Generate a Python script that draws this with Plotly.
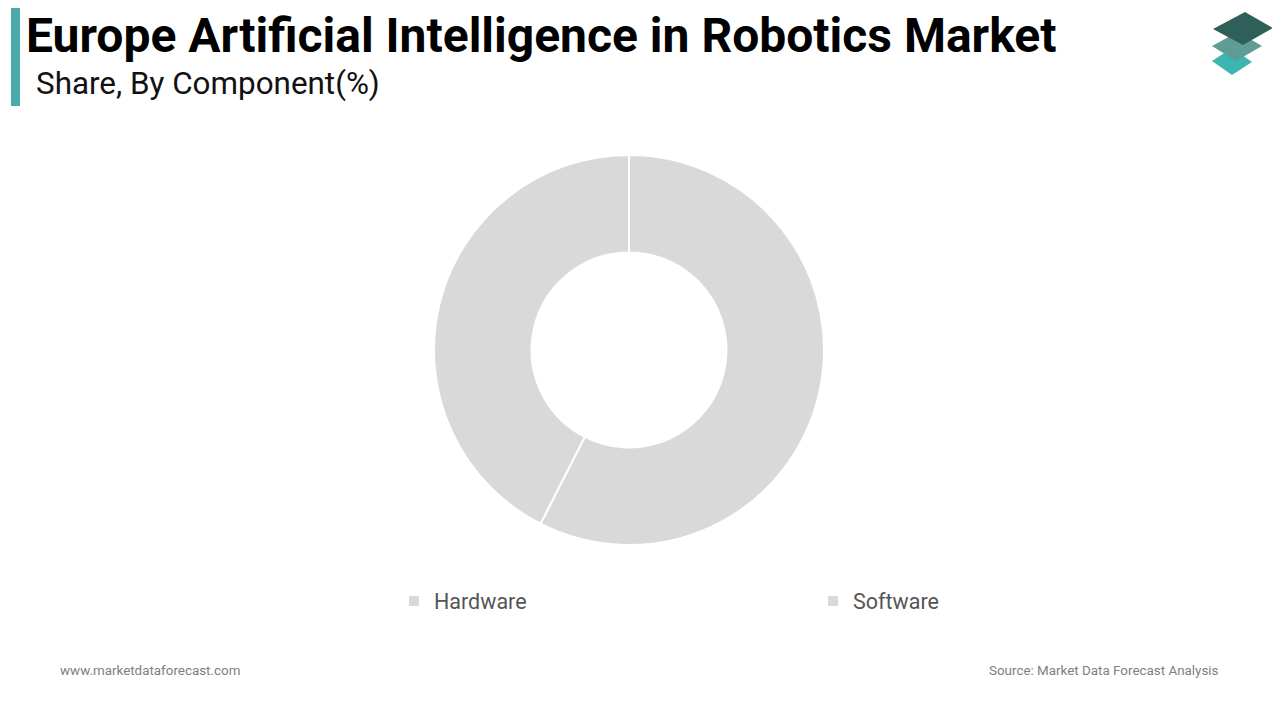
import plotly.graph_objects as go

labels = ["Hardware", "Software"]
values = [57.5, 42.5]
colors = ["#d9d9d9", "#d9d9d9"]

title = "Europe Artificial Intelligence in Robotics Market"
subtitle = "Share, By Component(%)"
footer_left = "www.marketdataforecast.com"
footer_right = "Source: Market Data Forecast Analysis"

W, H = 1280, 720
OFF = 8  # page body margin


def px(x):
    return (x - OFF) / W


def py(y):
    return 1 - (y - OFF) / H


def path(points):
    return "M " + " L ".join(f"{px(x):.5f},{py(y):.5f}" for x, y in points) + " Z"


CX, CY, R = 629, 350, 195

fig = go.Figure()
fig.add_trace(go.Pie(
    labels=labels,
    values=values,
    hole=0.5,
    sort=False,
    direction="clockwise",
    rotation=0,
    marker=dict(colors=colors, line=dict(color="white", width=2)),
    textinfo="none",
    hoverinfo="label+percent",
    domain=dict(x=[px(CX - R), px(CX + R)], y=[py(CY + R), py(CY - R)]),
))

shapes = [
    dict(type="rect", xref="paper", yref="paper", x0=px(11), x1=px(20), y0=py(106), y1=py(8),
         fillcolor="#4aa9a9", line=dict(width=0)),
    dict(type="path", xref="paper", yref="paper",
         path=path([(1232, 48), (1252, 62), (1232, 75), (1212, 61)]),
         fillcolor="#3db5b1", line=dict(width=0)),
    dict(type="path", xref="paper", yref="paper",
         path=path([(1238, 32), (1262, 46), (1236, 61), (1212, 46)]),
         fillcolor="#5f9c95", line=dict(width=0)),
    dict(type="path", xref="paper", yref="paper",
         path=path([(1245, 12), (1273, 28), (1243, 45), (1213, 29)]),
         fillcolor="#2e5f59", line=dict(width=0)),
]

annotations = [
    dict(text=f"<b>{title}</b>", x=px(24), y=py(36), xref="paper", yref="paper",
         xanchor="left", yanchor="middle", showarrow=False,
         font=dict(family="Roboto", size=48, color="#000000")),
    dict(text=subtitle, x=px(34), y=py(84), xref="paper", yref="paper",
         xanchor="left", yanchor="middle", showarrow=False,
         font=dict(family="Roboto", size=31.4, color="#111111")),
    dict(text=footer_left, x=px(58), y=py(670), xref="paper", yref="paper",
         xanchor="left", yanchor="middle", showarrow=False,
         font=dict(family="Roboto", size=13.4, color="#808080")),
    dict(text=footer_right, x=px(1221), y=py(670), xref="paper", yref="paper",
         xanchor="right", yanchor="middle", showarrow=False,
         font=dict(family="Roboto", size=13.4, color="#808080")),
]

fig.update_layout(
    width=W, height=H,
    margin=dict(l=0, r=0, t=0, b=0, autoexpand=False),
    paper_bgcolor="white",
    plot_bgcolor="white",
    shapes=shapes,
    annotations=annotations,
    showlegend=True,
    legend=dict(
        orientation="h",
        x=px(394), y=py(601), xanchor="left", yanchor="middle",
        xref="paper", yref="paper",
        entrywidth=374, entrywidthmode="pixels",
        font=dict(family="Roboto", size=21.5, color="#555555"),
        bgcolor="rgba(0,0,0,0)",
        itemclick=False, itemdoubleclick=False,
    ),
)

fig.write_html("out.html")
